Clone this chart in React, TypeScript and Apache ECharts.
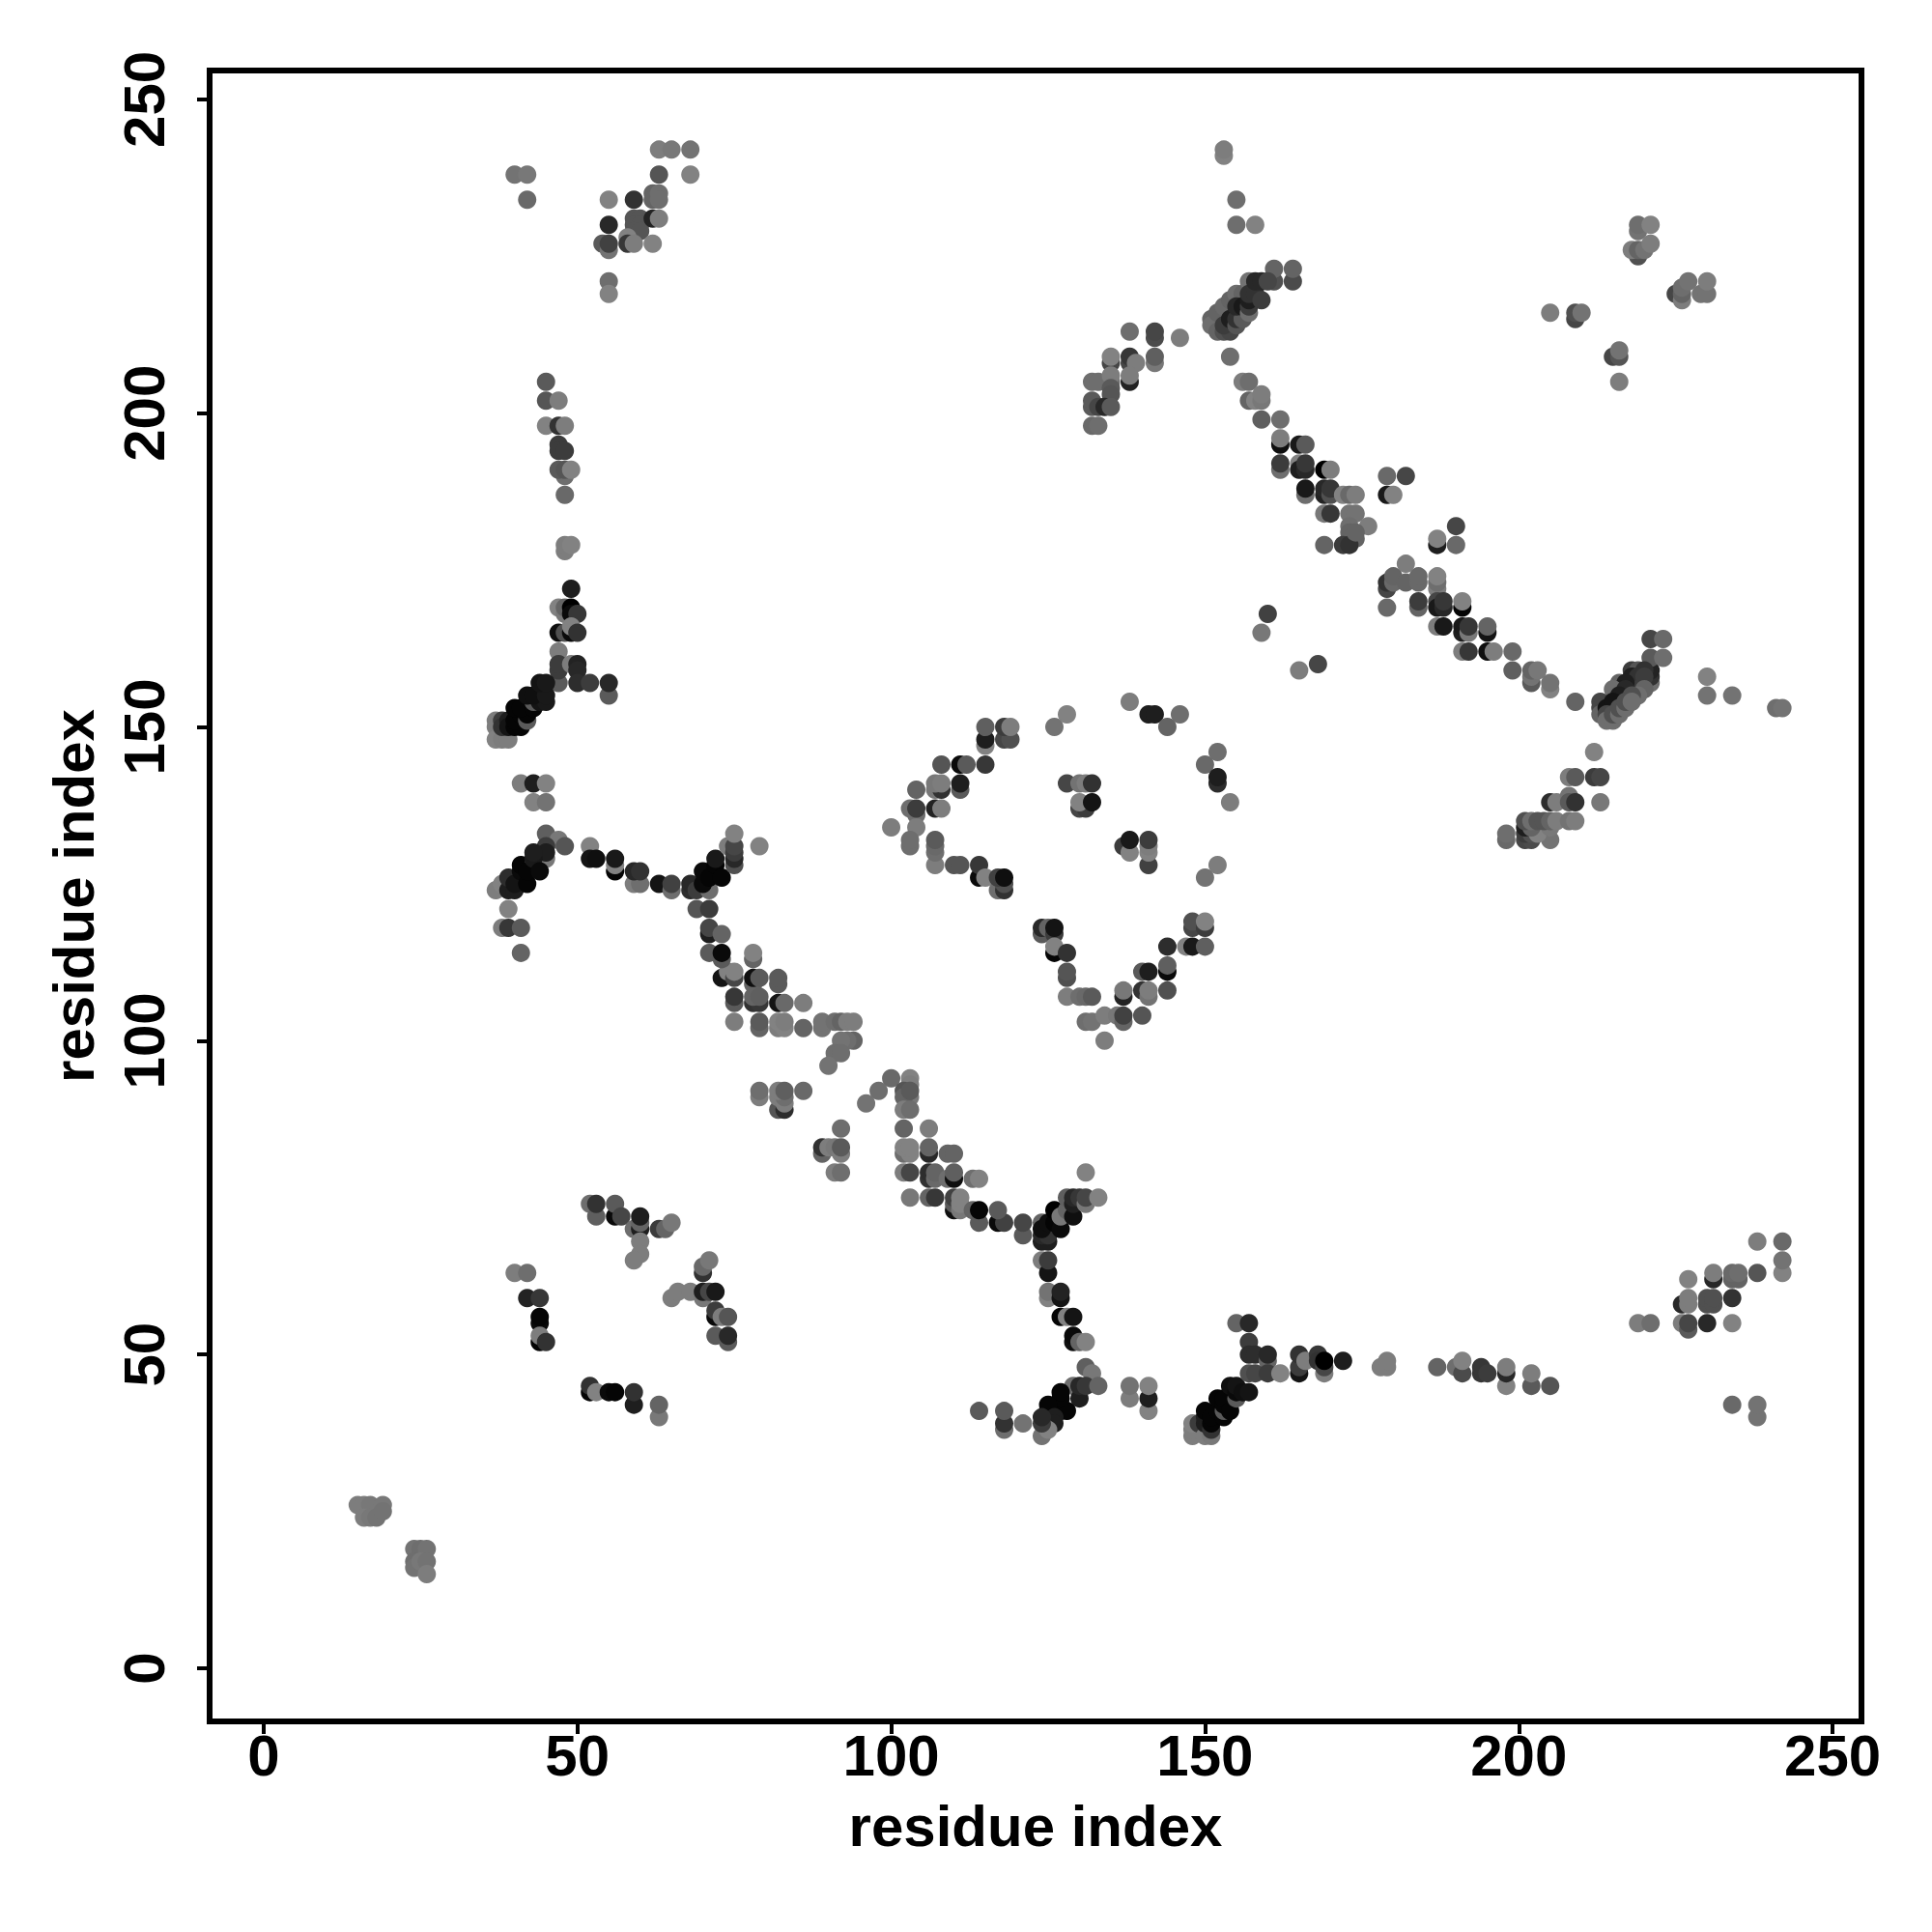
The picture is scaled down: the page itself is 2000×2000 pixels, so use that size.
import React, { useEffect, useRef } from "react";
import * as echarts from "echarts";

type P = [number, number, number];
const tickValues = [0, 50, 100, 150, 200, 250];
const axisTitle = "residue index";

const clusterTopLeft: P[] = [
  [40,238,115],[42,238,120],[42,234,105],[63,242,125],[65,242,120],[68,242,115],[63,238,85],[68,238,130],
  [55,234,130],[59,234,50],[62,235,100],[62,234,100],[63,235,110],[63,234,110],[55,230,40],[59,231,85],[60,231,85],[59,230,85],[60,230,85],[59,229,85],[60,229,85],
  [62,231,35],[63,231,125],[54,227,90],[55,226,115],[55,227,65],[58,228,130],[58,227,55],[59,227,125],[62,227,130],[55,221,110],[55,219,130],
];
const clusterColumn: P[] = [
  [45,205,90],[45,202,85],[47,202,125],[45,198,130],[47,198,50],[48,198,125],[47,195,60],[47,194,60],[48,194,60],
  [48,190,110],[47,191,90],[48,191,85],[49,191,130],[48,187,105],[48,178,125],[48,179,125],[49,179,130],[49,172,30],
  [47,169,130],[48,168,120],[48,169,100],[49,169,0],[49,168,10],[50,168,55],[47,165,15],[48,165,80],[49,165,10],[49,166,130],[50,165,50],[47,162,125],
  [47,157,90],[47,159,60],[47,160,60],[49,160,125],[50,160,35],[50,159,40],[50,157,45],[52,157,60],[55,155,90],[55,157,40],
  [37,151,125],[37,150,125],[37,148,130],[38,148,125],[39,148,125],[38,151,60],[38,150,50],[39,151,30],[39,150,20],[40,150,5],[41,150,5],[40,151,5],
  [41,152,5],[42,151,90],[42,152,5],[40,153,5],[41,153,5],[43,153,5],[43,154,90],[44,154,20],[45,154,25],[42,155,15],[43,155,15],[45,155,25],[44,157,20],[45,157,25],
];
const clusterBranch: P[] = [
  [41,141,125],[43,141,30],[45,141,130],[43,138,130],[45,138,115],[45,129,120],[45,133,95],[47,132,120],[48,131,85],[45,131,60],[45,130,30],
  [37,124,125],[38,125,130],[39,124,30],[40,124,30],[39,126,45],[40,125,20],[41,127,10],[41,128,5],[42,125,5],[43,128,90],[42,127,5],[43,129,25],[43,130,30],[44,127,10],
  [39,121,130],[38,118,125],[39,118,55],[41,118,90],[41,114,100],[52,131,130],[52,129,20],[53,129,15],[56,127,5],[56,128,130],[56,129,25],
  [59,125,125],[60,125,110],[59,127,40],[60,127,50],[63,125,20],[65,124,110],[65,125,65],[68,124,45],[68,125,40],[69,124,60],[71,124,110],[70,125,10],[70,127,10],
  [71,126,5],[72,128,5],[73,126,5],[72,129,25],[74,131,125],[75,128,80],[75,129,40],[75,130,60],[75,131,70],[75,133,130],[79,131,130],
  [69,121,85],[71,121,60],[71,117,30],[71,118,70],[73,117,100],[71,114,90],[73,113,90],[73,114,10],[78,113,100],[78,114,130],
];
const clusterDiagonal: P[] = [
  [73,110,20],[74,111,130],[75,110,70],[75,111,130],[78,109,100],[78,110,15],[79,110,90],[82,109,90],[82,110,90],
  [75,106,90],[75,107,55],[78,106,50],[79,106,55],[78,107,100],[79,107,95],[82,106,20],[83,106,105],[86,106,125],
  [75,103,125],[79,102,100],[79,103,90],[82,102,125],[83,102,130],[82,103,130],[83,103,125],[86,102,100],
  [89,102,115],[89,103,115],[91,103,110],[92,103,100],[93,103,125],[94,103,125],[94,100,100],[93,100,110],[92,100,115],[91,98,110],[92,98,110],[90,96,115],
  [79,91,125],[79,92,110],[82,89,85],[83,89,45],[82,91,125],[83,90,125],[83,91,110],[82,92,125],[83,92,95],[86,92,105],
  [92,86,110],[89,82,100],[89,83,50],[90,83,125],[91,83,120],[92,82,125],[92,83,90],[91,79,125],[92,79,110],
  [96,90,115],[98,92,110],[100,94,105],[103,94,130],[103,93,125],[102,92,85],[103,91,120],[102,91,100],[103,92,90],[102,89,125],[103,89,110],
  [102,86,100],[106,86,125],[102,82,110],[103,82,130],[102,83,130],[103,83,130],[106,82,40],[106,83,100],[109,82,100],[110,82,100],
  [102,79,125],[103,79,70],[106,78,50],[106,79,45],[107,78,105],[107,79,100],[109,78,110],[110,78,15],[110,79,95],[113,78,110],[114,78,130],
  [103,75,120],[106,75,100],[107,75,55],[110,73,15],[110,74,90],[110,75,65],[111,73,120],[111,74,130],[111,75,130],
  [113,73,100],[114,71,90],[114,73,5],[117,71,10],[118,71,65],[117,73,90],[121,69,90],[121,71,70],
];
const clusterJunction: P[] = [
  [124,71,100],[124,68,30],[125,68,30],[124,69,40],[125,69,50],[124,70,15],[125,71,15],[126,71,5],[127,70,10],[126,73,0],[127,72,120],[128,73,100],
  [128,75,95],[129,72,15],[129,74,30],[129,75,40],[130,75,55],[131,74,120],[131,75,70],[133,75,130],[131,79,130],
  [124,65,125],[125,63,20],[125,65,60],[125,59,130],[125,60,115],[127,59,20],[127,60,35],[127,56,5],[128,56,130],[129,56,20],
  [129,52,15],[129,53,10],[130,52,100],[131,52,130],[131,48,95],[132,47,120],[129,45,110],[130,43,30],[130,45,40],[131,45,55],[133,45,100],
  [127,41,5],[128,41,5],[127,43,5],[127,44,5],[125,41,5],[125,42,5],[126,40,30],[126,39,30],[124,37,115],[125,38,130],[124,39,60],[124,40,40],
  [114,41,90],[118,38,110],[118,39,50],[118,41,90],[121,39,115],[138,43,125],[138,45,115],[141,41,130],[141,43,30],[141,45,130],
];
const clusterCircle: P[] = [
  [128,152,130],[126,150,115],[138,154,125],[141,152,30],[142,152,30],[146,152,110],[144,150,100],
  [115,147,130],[115,148,30],[115,150,95],[118,148,70],[119,148,80],[118,150,60],[119,150,125],
  [108,144,85],[111,144,10],[112,144,90],[115,144,55],[104,140,100],[107,140,120],[108,140,50],[107,141,120],[108,141,125],[111,140,90],[111,141,30],
  [103,137,110],[104,136,110],[104,137,60],[107,137,35],[108,137,125],[104,134,125],[100,134,125],
  [103,131,110],[103,132,110],[107,128,125],[107,130,110],[107,131,105],[107,132,90],[110,128,85],[111,128,85],[114,126,10],[114,128,55],[115,126,130],
  [117,124,110],[118,124,50],[118,125,80],[117,126,65],[118,126,15],
  [128,141,70],[130,141,115],[131,141,125],[132,141,50],[130,137,70],[131,137,60],[130,138,130],[132,138,20],
  [137,131,60],[138,130,130],[138,132,25],[141,128,65],[141,130,130],[141,131,125],[141,132,60],
  [152,146,110],[150,144,105],[152,141,45],[152,142,30],[154,138,125],[152,128,125],[150,126,115],
  [124,117,90],[124,118,40],[125,118,100],[126,117,60],[126,118,20],[126,114,5],[126,115,130],[128,114,50],[128,110,80],[128,111,85],
  [128,107,125],[130,107,110],[131,107,105],[132,107,90],[131,103,110],[132,103,115],[134,104,125],[136,104,120],[137,103,100],[137,104,65],[140,104,85],[134,100,125],
  [137,107,35],[137,108,120],[140,108,50],[141,107,115],[141,108,125],[144,108,80],[140,111,90],[141,111,30],[144,111,10],[144,112,95],
  [144,115,45],[147,115,130],[148,115,25],[150,115,95],[148,118,70],[148,119,80],[150,118,60],[150,119,130],
];
const clusterUpperRight: P[] = [
  [153,241,130],[153,242,125],[155,234,110],[155,230,110],[158,230,130],[161,221,80],[164,221,75],[161,223,100],[164,223,100],
  [151,215,100],[151,214,110],[152,216,100],[152,213,100],[153,217,105],[153,213,80],[154,213,70],[153,214,60],[154,218,100],[155,219,110],[156,219,100],[157,221,115],
  [154,215,30],[155,214,85],[155,215,50],[156,215,90],[155,217,40],[156,217,25],[157,216,110],[157,217,60],[157,218,30],[157,219,50],[158,219,50],[158,221,40],[159,218,60],[159,221,40],[160,221,70],
  [138,213,110],[142,212,75],[142,213,70],[146,212,125],[135,208,70],[135,209,130],[138,208,70],[138,209,55],[139,208,125],[142,208,120],[142,209,95],[154,209,110],
  [138,205,35],[138,206,125],[132,205,110],[133,205,110],[135,205,110],[135,206,125],[135,204,90],[135,203,85],[132,201,90],[132,202,90],[133,201,70],[134,201,40],[135,201,90],
  [132,198,105],[133,198,110],
];
const clusterLongArc: P[] = [
  [156,205,125],[157,205,110],[157,202,100],[158,202,130],[159,202,120],[159,203,125],[159,199,95],[162,199,110],[162,195,15],[162,196,125],[165,195,25],[166,195,90],
  [162,191,110],[162,192,60],[165,192,130],[165,191,30],[166,191,40],[166,192,55],[169,191,0],[170,191,125],
  [166,187,110],[166,188,25],[169,187,35],[169,188,40],[170,187,80],[170,188,55],[172,187,130],[173,187,105],[174,187,125],
  [169,184,120],[170,184,55],[173,184,115],[174,184,115],[176,182,125],[173,182,110],[173,181,100],[173,180,100],[174,180,100],[169,179,100],[172,179,60],[173,179,50],[174,181,100],
  [179,190,105],[182,190,70],[179,187,25],[180,187,130],[190,182,70],[187,179,30],[187,180,130],[190,179,105],[182,176,125],
  [179,172,70],[179,173,50],[180,173,105],[180,174,100],[182,173,100],[184,173,105],[184,174,105],[187,172,125],[187,173,110],[187,174,130],
  [179,169,105],[184,169,100],[184,170,60],[187,170,70],[187,169,25],[188,169,40],[188,170,55],[191,169,5],[191,170,130],
  [187,166,125],[188,166,25],[191,165,30],[191,166,25],[192,165,120],[192,166,55],[195,165,20],[195,166,100],
  [191,162,125],[192,162,55],[195,162,15],[196,162,125],[199,162,105],[199,159,95],[202,157,90],[202,158,115],[202,159,100],[203,159,120],[205,156,130],[205,157,115],[209,154,100],
  [160,168,65],[159,165,120],[168,160,70],[165,159,125],
];
const clusterRightBand: P[] = [
  [221,164,70],[223,164,105],[221,157,110],[221,158,50],[221,159,35],[221,161,90],[223,161,110],
  [218,159,60],[219,159,85],[220,159,50],[218,158,30],[219,158,50],[220,158,60],[218,156,50],[219,156,60],[220,156,100],[216,157,100],[217,157,30],[215,156,110],[217,156,40],[216,155,30],[219,155,110],[218,155,80],
  [213,154,70],[213,153,70],[213,152,100],[214,153,20],[215,154,20],[214,152,70],[214,151,110],[215,151,110],[215,152,80],[216,152,110],[216,153,80],[217,153,110],[217,154,80],[218,154,110],
  [230,158,130],[230,155,115],[234,155,115],[241,153,110],[242,153,115],[212,146,130],
  [208,142,125],[209,142,90],[212,142,60],[213,142,70],[205,138,45],[206,138,125],[208,139,115],[208,138,90],[209,138,50],[213,138,120],
  [198,132,105],[198,133,110],[201,132,70],[202,132,75],[205,132,115],[201,133,60],[202,133,80],[203,133,130],[201,134,30],[202,134,100],[205,134,120],
  [201,135,80],[202,135,110],[203,135,85],[204,135,85],[205,135,100],[206,135,125],[208,135,115],[209,135,125],
];
const clusterFarCorner: P[] = [
  [219,229,115],[219,230,110],[221,230,130],[219,225,80],[218,226,125],[219,226,100],[220,226,115],[221,227,125],
  [225,219,70],[226,218,125],[226,219,100],[226,220,110],[227,221,115],[229,219,115],[230,219,115],[230,221,125],
  [205,216,125],[209,215,70],[209,216,80],[210,216,115],[215,209,70],[216,209,85],[216,210,115],[216,205,125],
];
const clusterLowerLeft: P[] = [
  [15,26,125],[16,26,125],[17,26,120],[19,26,120],[16,24,125],[17,24,120],[18,24,115],[19,25,115],
  [24,19,115],[25,19,110],[26,19,115],[24,17,110],[24,16,115],[25,17,120],[26,17,115],[26,15,125],
  [52,74,110],[53,72,95],[53,74,50],[56,72,10],[56,74,90],[57,72,70],[59,70,110],[60,70,30],[60,71,100],[60,72,30],[60,68,125],[60,66,125],[59,65,125],
  [63,70,60],[64,70,100],[65,71,120],[70,63,50],[70,64,105],[71,65,120],[65,59,125],[66,60,125],[68,60,125],[70,59,120],[70,60,30],[71,60,70],[72,60,25],
  [72,56,10],[72,57,60],[73,56,125],[74,56,85],[74,52,90],[72,53,90],[74,53,40],
  [40,63,125],[42,63,110],[42,59,35],[44,59,55],[44,55,10],[44,56,5],[44,52,5],[44,53,125],[45,52,50],
  [52,44,5],[52,45,50],[53,44,130],[55,44,10],[56,44,5],[59,42,30],[59,44,50],[63,40,120],[63,42,100],
];
const clusterLowerRight: P[] = [
  [148,37,125],[148,38,125],[148,39,130],[149,39,60],[150,37,125],[151,37,120],[150,39,30],[151,38,50],[150,40,30],[150,41,5],[151,39,5],[151,40,5],[152,41,5],[152,43,5],[153,40,5],[153,41,90],[153,42,5],[153,43,5],
  [154,41,5],[154,45,15],[155,43,90],[155,44,10],[155,45,20],[156,44,15],[157,44,20],
  [155,55,100],[157,55,40],[157,52,60],[157,50,45],[158,50,45],[160,49,100],[160,50,40],[157,47,80],[158,47,70],[160,47,60],[162,47,130],
  [165,47,20],[165,48,60],[165,50,50],[166,49,125],[168,50,55],[168,49,50],[169,47,125],[169,48,70],[169,49,0],[172,49,30],
  [178,48,125],[179,48,125],[179,49,125],[187,48,100],[190,48,110],[191,47,75],[191,49,130],[194,47,55],[194,48,55],[195,47,60],
  [198,45,130],[198,47,40],[198,48,125],[202,45,90],[202,47,125],[205,45,85],
  [219,55,125],[221,55,110],[226,55,125],[227,54,90],[227,55,70],[230,55,40],[234,55,130],
  [226,58,40],[227,58,125],[227,59,125],[230,58,80],[230,59,80],[231,58,80],[231,59,80],[234,59,50],
  [227,62,130],[231,62,40],[231,63,125],[234,62,100],[235,62,100],[234,63,105],[235,63,110],[238,63,85],[242,63,130],[242,65,115],[238,68,125],[242,68,105],
  [234,42,105],[238,40,115],[238,42,115],
];

const allClusters: P[][] = [
  clusterLowerLeft, clusterLowerRight, clusterJunction, clusterDiagonal, clusterBranch, clusterColumn,
  clusterCircle, clusterTopLeft, clusterUpperRight, clusterLongArc, clusterRightBand, clusterFarCorner,
];

const FONT = "Liberation Sans";

export default function App() {
  const ref = useRef<HTMLDivElement>(null);
  useEffect(() => {
    const chart = echarts.init(ref.current!, undefined, { renderer: "svg" });
    chart.setOption({
      animation: false,
      backgroundColor: "#fff",
      grid: {
        left: 217, top: 73, width: 1710, height: 1709, show: true,
        borderColor: "#000", borderWidth: 6, backgroundColor: "transparent",
      },
      xAxis: {
        type: "value", min: -8.6, max: 254.6,
        name: axisTitle, nameLocation: "middle", nameGap: 78,
        nameTextStyle: { fontFamily: FONT, fontWeight: "bold", fontSize: 60, color: "#000" },
        axisLine: { show: false, onZero: false }, splitLine: { show: false },
        axisTick: { show: true, length: 13, inside: false, customValues: tickValues, lineStyle: { color: "#000", width: 4 } },
        axisLabel: { customValues: tickValues, margin: 5, fontFamily: FONT, fontWeight: "bold", fontSize: 60, color: "#000" },
      },
      yAxis: {
        type: "value", min: -8.47, max: 254.6,
        name: axisTitle, nameLocation: "middle", nameGap: 111, nameRotate: 90,
        nameTextStyle: { fontFamily: FONT, fontWeight: "bold", fontSize: 60, color: "#000" },
        axisLine: { show: false, onZero: false }, splitLine: { show: false },
        axisTick: { show: true, length: 13, inside: false, customValues: tickValues, lineStyle: { color: "#000", width: 4 } },
        axisLabel: { customValues: tickValues, rotate: 90, margin: 38, fontFamily: FONT, fontWeight: "bold", fontSize: 60, color: "#000", align: "center", verticalAlign: "bottom" },
      },
      series: allClusters.map((c) => ({
        type: "scatter", symbol: "circle", symbolSize: 19,
        data: c.map((p) => ({ value: [p[0], p[1]], itemStyle: { color: `rgb(${p[2]},${p[2]},${p[2]})`, opacity: 1 } })),
        emphasis: { disabled: true }, silent: true,
      })),
    });
    return () => chart.dispose();
  }, []);
  return <div ref={ref} style={{ position: "absolute", left: 0, top: 0, width: 2000, height: 2000 }} />;
}
